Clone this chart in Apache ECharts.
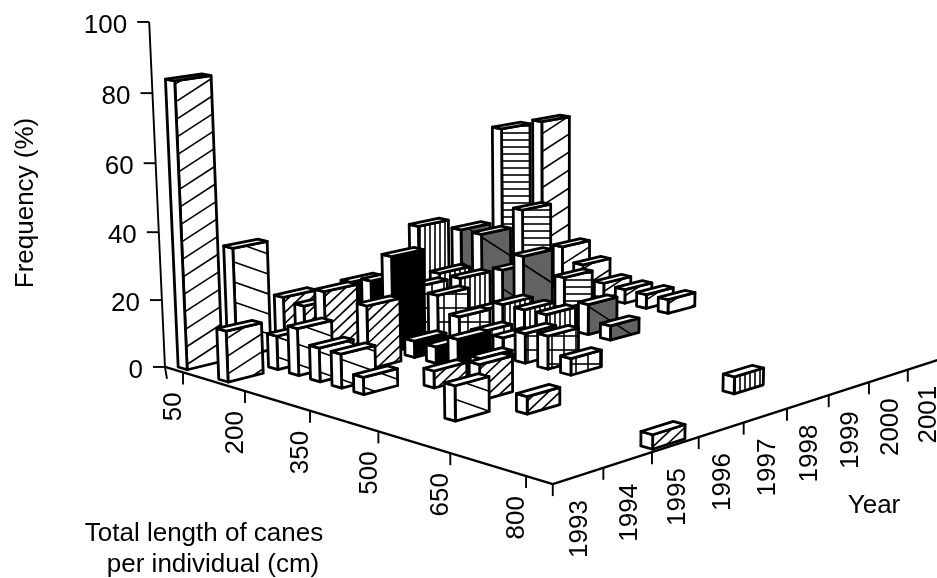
<!DOCTYPE html>
<html>
<head>
<meta charset="utf-8">
<script src="https://cdn.jsdelivr.net/npm/echarts@6/dist/echarts.min.js"></script>
<style>
  html, body { margin: 0; background: #fff; }
  #chart { width: 937px; height: 578px; }
</style>
</head>
<body>
<div id="chart"></div>
<script>
const freqTicks = [0, 20, 40, 60, 80, 100];
const lengthTicks = [50, 200, 350, 500, 650, 800];
const yearTicks = [1993, 1994, 1995, 1996, 1997, 1998, 1999, 2000, 2001];

// one list per year: length class (cm) and frequency (%)
const len1993 = [50, 150];
const freq1993 = [84, 15];
const len1994 = [50, 150, 200, 250, 300, 350, 550];
const freq1994 = [33, 10, 14, 10, 10, 5, 10];
const len1995 = [50, 100, 150, 250, 400, 500, 600, 850];
const freq1995 = [15, 14, 20, 19, 5, 10.5, 5, 4];
const len1996 = [100, 150, 200, 250, 300, 350, 400];
const freq1996 = [18, 20, 29, 5, 5, 9, 5];
const len1997 = [150, 200, 250, 300, 350, 400, 450, 500];
const freq1997 = [15, 14, 9, 6, 6, 9, 10, 5];
const len1998 = [50, 100, 150, 200, 250, 300, 350, 750];
const freq1998 = [28, 14.5, 14.5, 6, 9.5, 9.5, 9.7, 5];
const len1999 = [50, 100, 150, 200, 350, 400];
const freq1999 = [24, 24, 14, 20, 9.5, 4.5];
const len2000 = [50, 100, 200];
const freq2000 = [54, 29, 10];
const len2001 = [50, 100, 150, 200, 250, 300, 350];
const freq2001 = [54, 14, 9.5, 5, 4.5, 4.5, 4.5];

const lenByYear = [len1993, len1994, len1995, len1996, len1997, len1998, len1999, len2000, len2001];
const freqByYear = [freq1993, freq1994, freq1995, freq1996, freq1997, freq1998, freq1999, freq2000, freq2001];

// fill and hatch of the wide face, by year
const wide = [{ m: -0.65, gap: 18 }];
const yearStyle = [
  { fill: '#fff', hatch: wide },
  { fill: '#fff', hatch: [{ m: 0.35, gap: 20 }] },
  { fill: '#fff', hatch: [{ m: -0.95, gap: 11 }] },
  { fill: '#000', hatch: [] },
  { fill: '#fff', hatch: [{ m: 0, gap: 14 }, { vertical: true, gap: 12 }] },
  { fill: '#fff', hatch: [{ vertical: true, gap: 5 }] },
  { fill: '#626262', hatch: [{ m: 0.65, gap: 38 }] },
  { fill: '#fff', hatch: [{ m: 0, gap: 7 }] },
  { fill: '#fff', hatch: wide }
];

const FONT = '26px "Liberation Sans", Arial, sans-serif';

// perspective camera fitted to the axis ticks: u = (length - 50) / 150, v = year - 1993
function project(u, v, h) {
  const w = 1 - 0.0236 * u + 0.01783 * v - 0.000387 * h;
  return [
    (183 + 56.2 * u + 54.97 * v - 0.2167 * h) / w,
    (372.4 + 9.49 * u - 5.9 * v - 3.483 * h) / w
  ];
}

// ends of the hatch lines of one family, cut to a convex polygon
function hatchLines(poly, fam) {
  const nx = fam.vertical ? 1 : -fam.m;
  const ny = fam.vertical ? 0 : 1;
  const vals = poly.map(p => nx * p[0] + ny * p[1]);
  const lines = [];
  let c = Math.ceil(Math.min(...vals) / fam.gap) * fam.gap;
  for (; c < Math.max(...vals); c += fam.gap) {
    const hits = [];
    poly.forEach((p, i) => {
      const j = (i + 1) % poly.length;
      const a = vals[i] - c, b = vals[j] - c;
      if ((a < 0) !== (b < 0)) {
        const t = a / (a - b);
        hits.push([p[0] + (poly[j][0] - p[0]) * t, p[1] + (poly[j][1] - p[1]) * t]);
      }
    });
    if (hits.length >= 2) lines.push(hits);
  }
  return lines;
}

function renderBar(params, api) {
  const len = api.value(0);
  const yr = api.value(1);
  const h = api.value(2);
  const style = yearStyle[yr];
  const u1 = (len - 50) / 150 - 0.05;
  const u0 = u1 - 0.15;
  const v0 = yr * 0.983 + 0.14;
  const v1 = v0 + 0.69;
  const pt = (u, v, z) => api.coord(project(u, v, z));
  const edge = { stroke: '#000', lineWidth: 2.8, lineJoin: 'round' };

  const wideFace = [pt(u1, v0, 0), pt(u1, v1, 0), pt(u1, v1, h), pt(u1, v0, h)];
  const children = [
    { type: 'polygon', shape: { points: wideFace }, style: { fill: style.fill } }
  ];
  style.hatch.forEach(fam => {
    hatchLines(wideFace, fam).forEach(l => {
      children.push({
        type: 'line',
        shape: { x1: l[0][0], y1: l[0][1], x2: l[1][0], y2: l[1][1] },
        style: { stroke: '#000', lineWidth: 1.6 }
      });
    });
  });
  children.push({ type: 'polygon', shape: { points: wideFace }, style: { fill: 'none', ...edge } });
  children.push({
    type: 'polygon',
    shape: { points: [pt(u0, v0, 0), pt(u1, v0, 0), pt(u1, v0, h), pt(u0, v0, h)] },
    style: { fill: '#fff', ...edge }
  });
  children.push({
    type: 'polygon',
    shape: { points: [pt(u0, v0, h), pt(u1, v0, h), pt(u1, v1, h), pt(u0, v1, h)] },
    style: { fill: '#fff', ...edge }
  });
  return { type: 'group', children: children };
}

function renderAxes(params, api) {
  const children = [];
  const uLeft = -0.3, uCorner = 5.34, vEnd = 8.8;
  const line = (a, b, lw) => ({
    type: 'line',
    shape: { x1: a[0], y1: a[1], x2: b[0], y2: b[1] },
    style: { stroke: '#000', lineWidth: lw }
  });
  const label = (text, p, align, rotated) => ({
    type: 'text',
    x: p[0], y: p[1],
    rotation: rotated ? Math.PI / 2 : 0,
    style: { text: String(text), font: FONT, fill: '#000', textAlign: align, textVerticalAlign: 'middle' }
  });
  const pt = (u, v, z) => api.coord(project(u, v, z));

  const base = pt(uLeft, 0, 0);
  children.push(line(base, pt(uLeft, 0, 100), 1.9));
  children.push(line(base, [base[0] + 2, base[1] + 12], 1.9));
  children.push(line(base, pt(uCorner, 0, 0), 2.4));
  children.push(line(pt(uCorner, 0, 0), pt(uCorner, vEnd, 0), 2.4));

  freqTicks.forEach(t => {
    const p = pt(uLeft, 0, t);
    children.push(line(p, [p[0] - 12, p[1]], 1.9));
    children.push(label(t, [p[0] - 22, p[1] + 4], 'right', false));
  });
  lengthTicks.forEach(t => {
    const p = pt((t - 50) / 150, 0, 0);
    children.push(line(p, [p[0], p[1] + 12], 1.9));
    children.push(label(t, [p[0] - 9, p[1] + 20], 'right', true));
  });
  yearTicks.forEach((t, i) => {
    const p = pt(uCorner, t - 1993, 0);
    children.push(line(p, [p[0], p[1] + 12], 1.9));
    children.push(label(t, [p[0] + 27 - 0.8 * i, p[1] + 16], 'right', true));
  });
  return { type: 'group', children: children };
}

// back rows first, so the nearer bars cover them
let barData = [];
lenByYear.forEach((lens, i) => {
  lens.forEach((len, j) => {
    barData.push([len, i, freqByYear[i][j]]);
  });
});
barData.sort((a, b) => b[1] - a[1] || a[0] - b[0]);

function titleText(text, x, y, align, rotated) {
  return {
    type: 'text', x: x, y: y,
    rotation: rotated ? Math.PI / 2 : 0,
    style: { text: text, font: FONT, fill: '#000', textAlign: align, textVerticalAlign: 'middle' }
  };
}

const chart = echarts.init(document.getElementById('chart'), null, { renderer: 'canvas' });
chart.setOption({
  animation: false,
  backgroundColor: '#fff',
  grid: { left: 0, right: 0, top: 0, bottom: 0 },
  xAxis: { type: 'value', min: 0, max: 937, show: false },
  yAxis: { type: 'value', min: 0, max: 578, inverse: true, show: false },
  graphic: [
    titleText('Frequency (%)', 26, 203, 'center', true),
    titleText('Year', 874, 506, 'center', false),
    titleText('Total length of canes', 204, 534, 'center', false),
    titleText('per individual (cm)', 213, 565, 'center', false)
  ],
  series: [
    {
      type: 'custom',
      name: 'axes',
      coordinateSystem: 'cartesian2d',
      silent: true,
      clip: false,
      data: [[0, 0]],
      renderItem: renderAxes
    },
    {
      type: 'custom',
      name: 'bars',
      coordinateSystem: 'cartesian2d',
      clip: false,
      encode: { x: 0, y: 2 },
      data: barData,
      renderItem: renderBar
    }
  ]
});
</script>
</body>
</html>
